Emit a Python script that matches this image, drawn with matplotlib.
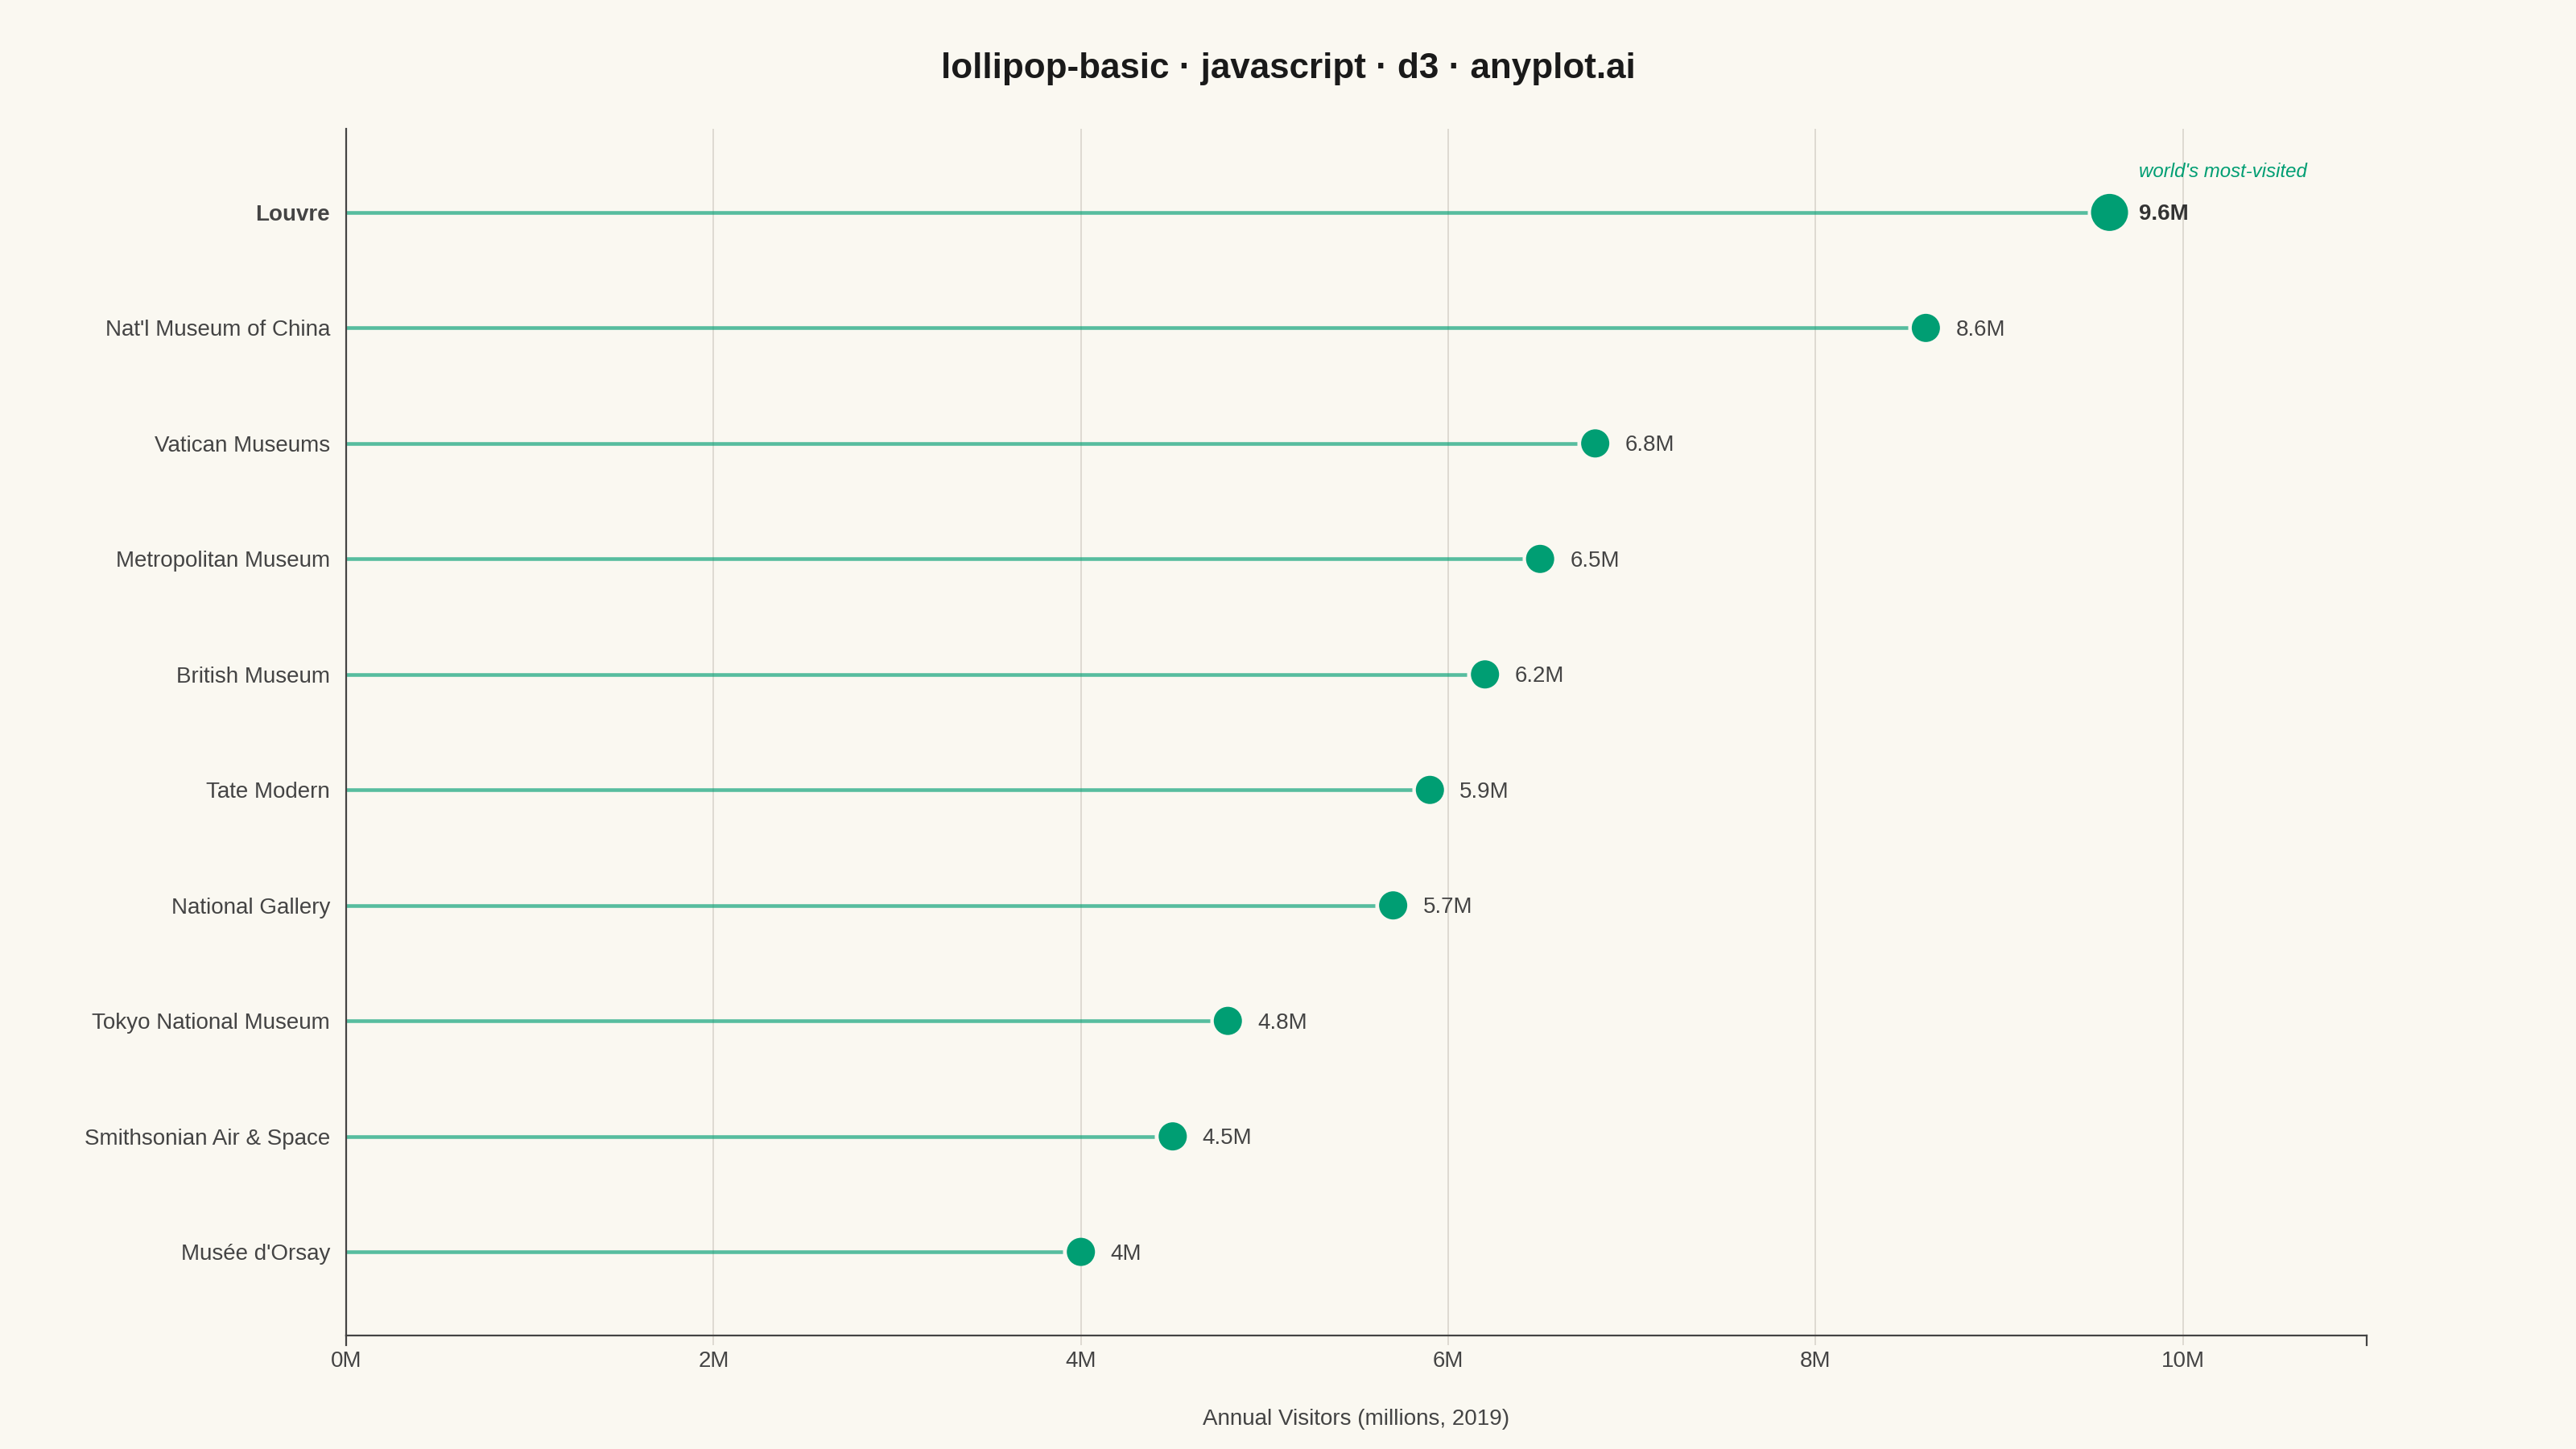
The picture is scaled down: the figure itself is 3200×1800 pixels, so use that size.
import matplotlib.pyplot as plt
import numpy as np

# Museos mas visitados (2019), en millones
museums = ["Louvre", "Nat'l Museum of China", "Vatican Museums", "Metropolitan Museum",
           "British Museum", "Tate Modern", "National Gallery", "Tokyo National Museum",
           "Smithsonian Air & Space", "Musée d'Orsay"]
visitors = [9.6, 8.6, 6.8, 6.5, 6.2, 5.9, 5.7, 4.8, 4.5, 4.0]
x_ticks = [0, 2, 4, 6, 8, 10]
x_max = 11

bg = "#FAF8F1"
green = "#009E73"
ink = "#444444"
grid_c = "#DEDAD2"

plt.rcParams['font.family'] = ['Liberation Sans', 'DejaVu Sans']

fig = plt.figure(figsize=(32, 18), dpi=100, facecolor=bg)
ax = fig.add_axes([430/3200, 1 - 1659/1800, 2510/3200, 1499/1800])
ax.set_facecolor(bg)

y = np.arange(len(museums))
ax.set_xlim(0, x_max)
ax.set_ylim(len(museums) - 1 + 0.724, -0.724)

# radio de los puntos en px (Louvre destacado)
r_px = np.array([23.0] + [17.5] * (len(museums) - 1))
px_per_unit = 2510 / x_max
gap = (r_px + 5) / px_per_unit

ax.hlines(y, 0, np.array(visitors) - gap, color=green, alpha=0.65, lw=3.3, zorder=2)
ax.scatter(visitors, y, s=(2 * r_px * 0.72) ** 2, color=green, edgecolors='none', zorder=3)

for i, (v, name) in enumerate(zip(visitors, museums)):
    ax.annotate(f"{v:g}M", (v, i), xytext=(26.6, -1.8), textcoords='offset points',
                ha='left', va='center', fontsize=20, color=ink if i else "#333333",
                fontweight='bold' if i == 0 else 'normal')

ax.annotate("world's most-visited", (visitors[0], 0), xytext=(26.6, 36.5), textcoords='offset points',
            ha='left', va='center', fontsize=17.3, color=green, style='italic')

# ejes
ax.set_yticks(y)
ax.set_yticklabels(museums)
for i, lab in enumerate(ax.get_yticklabels()):
    if i == 0:
        lab.set_fontweight('bold')
        lab.set_color("#333333")
ax.tick_params(axis='y', length=0, pad=14.4, labelsize=20, labelcolor=ink)

ax.set_xticks(x_ticks)
ax.set_xticklabels([f"{t}M" for t in x_ticks])
ax.tick_params(axis='x', length=8.6, width=1.4, color=grid_c, pad=5, labelsize=20, labelcolor=ink)
ax.grid(axis='x', color=grid_c, lw=1.4, zorder=0)
ax.grid(axis='y', visible=False)

for s in ['top', 'right']:
    ax.spines[s].set_visible(False)
for s in ['left', 'bottom']:
    ax.spines[s].set_color(ink)
    ax.spines[s].set_linewidth(1.6)

# ticks exteriores del dominio
for xv in [0, x_max]:
    ax.plot([xv, xv], [0, -12 / 1499], transform=ax.get_xaxis_transform(),
            color=ink, lw=1.6, clip_on=False, zorder=4)

ax.set_xlabel("Annual Visitors (millions, 2019)", fontsize=20, color=ink, va='center')
ax.xaxis.set_label_coords(0.5, -104 / 1499)

fig.text(0.5, 1 - 86/1800, "lollipop-basic · javascript · d3 · anyplot.ai", ha='center', va='center',
         fontsize=31.7, fontweight='bold', color="#1a1a1a")

fig.savefig("out.png", dpi=100, facecolor=bg)
